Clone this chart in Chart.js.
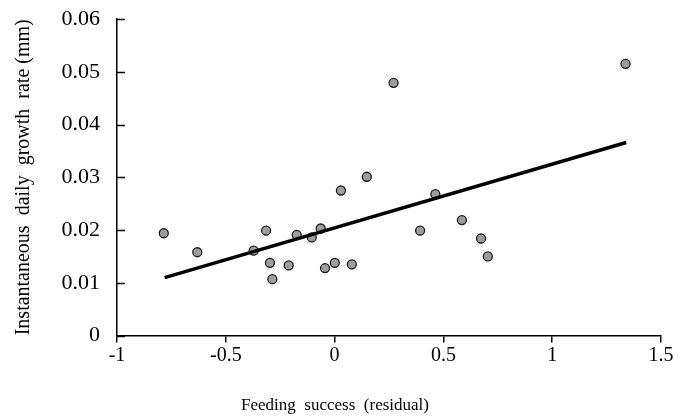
<!DOCTYPE html>
<html>
<head>
<meta charset="utf-8">
<script src="https://cdn.jsdelivr.net/npm/chart.js@4/dist/chart.umd.min.js"></script>
<style>
  html, body { margin: 0; padding: 0; background: #fff; }
  #wrap { width: 687px; height: 418px; }
</style>
</head>
<body>
<div id="wrap"><canvas id="myChart" width="687" height="418"></canvas></div>
<script>
// feeding success residual vs growth rate
var xValues = [-0.785, -0.631, -0.372, -0.315, -0.297, -0.286, -0.211, -0.174, -0.105, -0.064, -0.044, 0.001, 0.029, 0.079, 0.148, 0.271, 0.393, 0.463, 0.585, 0.673, 0.704, 1.337];
var yValues = [0.0194, 0.0158, 0.0161, 0.0199, 0.0138, 0.0107, 0.0133, 0.0191, 0.0186, 0.0203, 0.0128, 0.0138, 0.0275, 0.0135, 0.0301, 0.0479, 0.0199, 0.0268, 0.0219, 0.0184, 0.0150, 0.0515];

// trendline end points
var trendX = [-0.781, 1.340];
var trendY = [0.0110, 0.0366];

var xTickLabels = ["-1", "-0.5", "0", "0.5", "1", "1.5"];
var yTickLabels = ["0", "0.01", "0.02", "0.03", "0.04", "0.05", "0.06"];

var points = xValues.map(function (x, i) {
  return { x: x, y: yValues[i] };
});
var trend = trendX.map(function (x, i) {
  return { x: x, y: trendY[i] };
});

var serif = "'Liberation Serif', 'Times New Roman', serif";

// y ticks point into the plot, chart.js can't do that so draw them here
var innerTicks = {
  id: "innerTicks",
  afterDraw: function (chart) {
    var ctx = chart.ctx;
    var y = chart.scales.y;
    var left = chart.chartArea.left;
    ctx.save();
    ctx.strokeStyle = "#000";
    ctx.lineWidth = 1.5;
    y.ticks.forEach(function (t) {
      var py = Math.round(y.getPixelForValue(t.value)) + 0.5;
      ctx.beginPath();
      ctx.moveTo(left, py);
      ctx.lineTo(left + 8, py);
      ctx.stroke();
    });
    ctx.restore();
  }
};

var ctx = document.getElementById("myChart").getContext("2d");
var chart = new Chart(ctx, {
  type: "scatter",
  data: {
    datasets: [
      {
        data: points,
        pointRadius: 4.5,
        pointBackgroundColor: "#9e9e9e",
        pointBorderColor: "#1a1a1a",
        pointBorderWidth: 1.3,
        order: 2
      },
      {
        data: trend,
        showLine: true,
        borderColor: "#000",
        borderWidth: 3.5,
        pointRadius: 0,
        order: 1
      }
    ]
  },
  options: {
    responsive: false,
    animation: false,
    layout: { padding: { top: 19, right: 26, left: 9, bottom: 0 } },
    plugins: {
      legend: { display: false },
      tooltip: { enabled: false },
      // x title sits centred on the whole figure, not the plot, so use the chart title
      title: {
        display: true,
        position: "bottom",
        text: "Feeding  success  (residual)",
        color: "#000",
        font: { family: serif, size: 17, weight: "normal" },
        padding: { top: 0, bottom: 2 }
      }
    },
    scales: {
      x: {
        min: -1,
        max: 1.5,
        ticks: {
          stepSize: 0.5,
          padding: 1,
          color: "#000",
          font: { family: serif, size: 20 },
          maxRotation: 0,
          callback: function (v, i) { return xTickLabels[i]; }
        },
        grid: { drawOnChartArea: false, tickLength: 7, color: "#000", lineWidth: 1.5 },
        border: { color: "#000", width: 1.5 },
        afterFit: function (s) { s.height = 60; }
      },
      y: {
        min: 0,
        max: 0.06,
        ticks: {
          stepSize: 0.01,
          padding: 17,
          color: "#000",
          font: { family: serif, size: 22 },
          callback: function (v, i) { return yTickLabels[i]; }
        },
        grid: { drawOnChartArea: false, drawTicks: false },
        border: { color: "#000", width: 1.5 },
        title: {
          display: true,
          text: "Instantaneous  daily  growth  rate (mm)",
          color: "#000",
          font: { family: serif, size: 20 },
          padding: { top: 3, bottom: 0 }
        },
        afterFit: function (s) {
          s.width = 108;
          s.paddingTop = 0;
          s.paddingBottom = 0;
        }
      }
    }
  },
  plugins: [innerTicks]
});
</script>
</body>
</html>
